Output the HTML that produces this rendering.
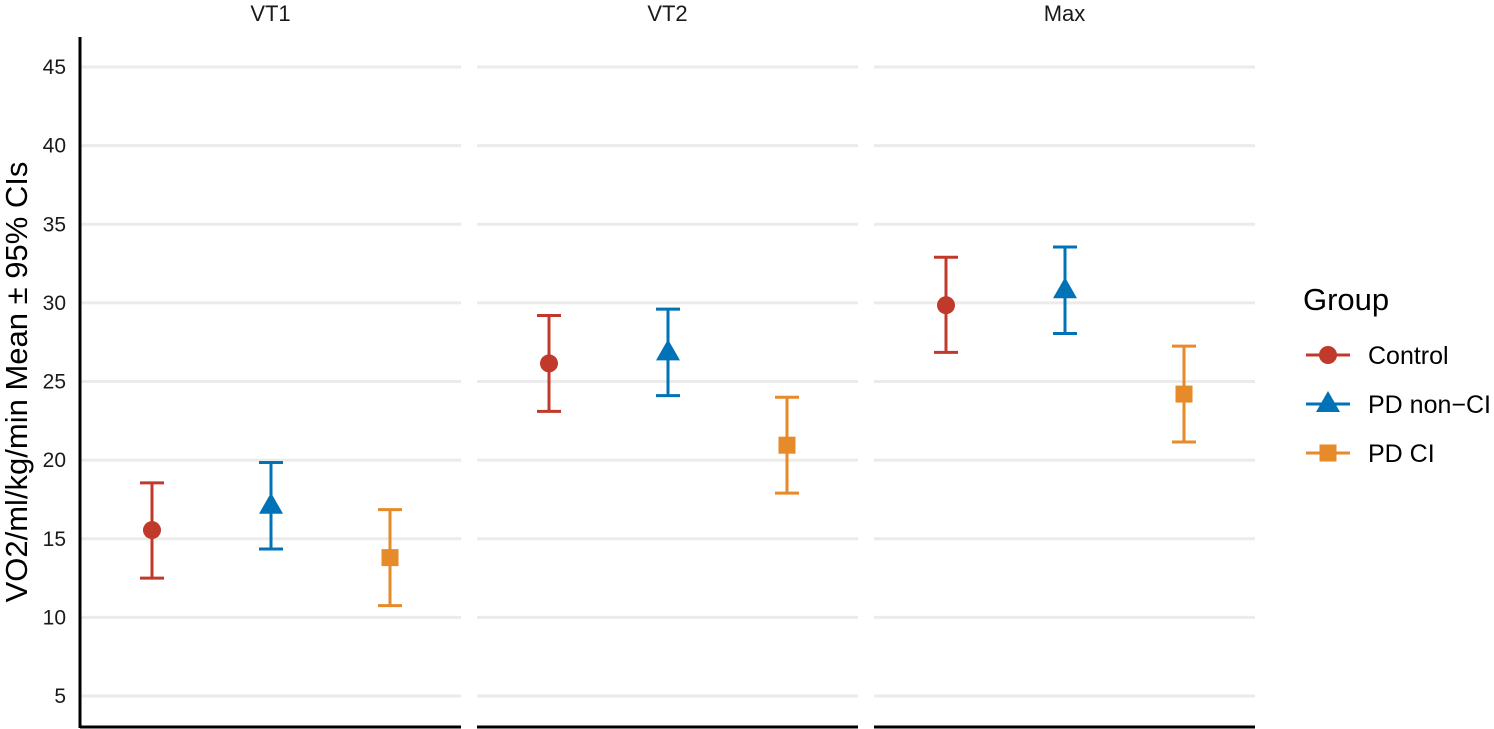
<!DOCTYPE html>
<html><head><meta charset="utf-8"><style>
body{margin:0;background:#fff;font-family:"Liberation Sans",Arial,sans-serif}
svg{display:block}
</style></head><body>
<svg id="chart" width="1494" height="729">
<g id="grid"></g><g id="marks"></g><g id="axes"></g><g id="legend"></g>
</svg>
<script>
const panels=["VT1","VT2","Max"];
const groups=["Control","PD non\u2212CI","PD CI"];
const means=[[15.55,17.1,13.8],[26.15,26.85,20.95],[29.85,30.8,24.2]];
const lows=[[12.5,14.35,10.75],[23.1,24.1,17.9],[26.85,28.05,21.15]];
const highs=[[18.55,19.85,16.85],[29.2,29.6,24.0],[32.9,33.55,27.25]];
const yTicks=[5,10,15,20,25,30,35,40,45];
const colors=["#C0392B","#0072B5","#E68A2A"];
const NS="http://www.w3.org/2000/svg";
const svg=document.getElementById('chart');
const y=v=>696-(v-5)*15.725;
const panelX=[80,477,874],panelW=381;
const x=(p,g)=>panelX[p]+72+g*119;
function el(t,a,parent){const e=document.createElementNS(NS,t);for(const k in a)e.setAttribute(k,a[k]);(parent||svg).appendChild(e);return e;}
const G=document.getElementById('grid'),M=document.getElementById('marks'),A=document.getElementById('axes'),L=document.getElementById('legend');
panels.forEach((p,i)=>{
  yTicks.forEach(t=>{const l=el('line',{x1:panelX[i],x2:panelX[i]+panelW,y1:y(t),y2:y(t),stroke:'#ebebeb','stroke-width':3},G);
    });
  const tx=el('text',{x:panelX[i]+panelW/2,y:21,'text-anchor':'middle','font-size':22,fill:'#1a1a1a'},A);tx.textContent=p;
  
  const ax=el('line',{x1:panelX[i],x2:panelX[i]+panelW,y1:727,y2:727,stroke:'#000','stroke-width':3},A);
  
  groups.forEach((g,j)=>{
    const cx=x(i,j),c=colors[j];
    const eb=el('path',{d:`M${cx-12},${y(highs[i][j])}H${cx+12}M${cx},${y(highs[i][j])}V${y(lows[i][j])}M${cx-12},${y(lows[i][j])}H${cx+12}`,stroke:c,'stroke-width':3,fill:'none'},M);
    
    const cy=y(means[i][j]);let m;
    if(j==0)m=el('circle',{cx,cy,r:9,fill:c},M);
    else if(j==1)m=el('polygon',{points:`${cx},${cy-13} ${cx+12},${cy+8} ${cx-12},${cy+8}`,fill:c},M);
    else m=el('rect',{x:cx-8.5,y:cy-8.5,width:17,height:17,fill:c},M);
    
  });
});
const yl=el('line',{x1:80,x2:80,y1:37,y2:728,stroke:'#000','stroke-width':3},A);

yTicks.forEach(t=>{const tx=el('text',{x:66,y:y(t)+7,'text-anchor':'end','font-size':21,fill:'#1a1a1a'},A);tx.textContent=t;
  });
const yt=el('text',{transform:'translate(27,382) rotate(-90)','text-anchor':'middle','font-size':31,fill:'#000'},A);
yt.textContent='VO2/ml/kg/min Mean \u00b1 95% CIs';

const lt=el('text',{x:1303,y:310,'font-size':31,fill:'#000'},L);lt.textContent='Group';

groups.forEach((g,j)=>{
  const cy=355+j*49,cx=1328,c=colors[j];
  el('line',{x1:1306,x2:1350,y1:cy,y2:cy,stroke:c,'stroke-width':3},L);
  let m;
  if(j==0)m=el('circle',{cx,cy,r:9,fill:c},L);
  else if(j==1)m=el('polygon',{points:`${cx},${cy-13} ${cx+12},${cy+8} ${cx-12},${cy+8}`,fill:c},L);
  else m=el('rect',{x:cx-8.5,y:cy-8.5,width:17,height:17,fill:c},L);
  
  const tx=el('text',{x:1368,y:cy+9,'font-size':25,fill:'#000'},L);tx.textContent=g;
  
});
</script>
</body></html>
